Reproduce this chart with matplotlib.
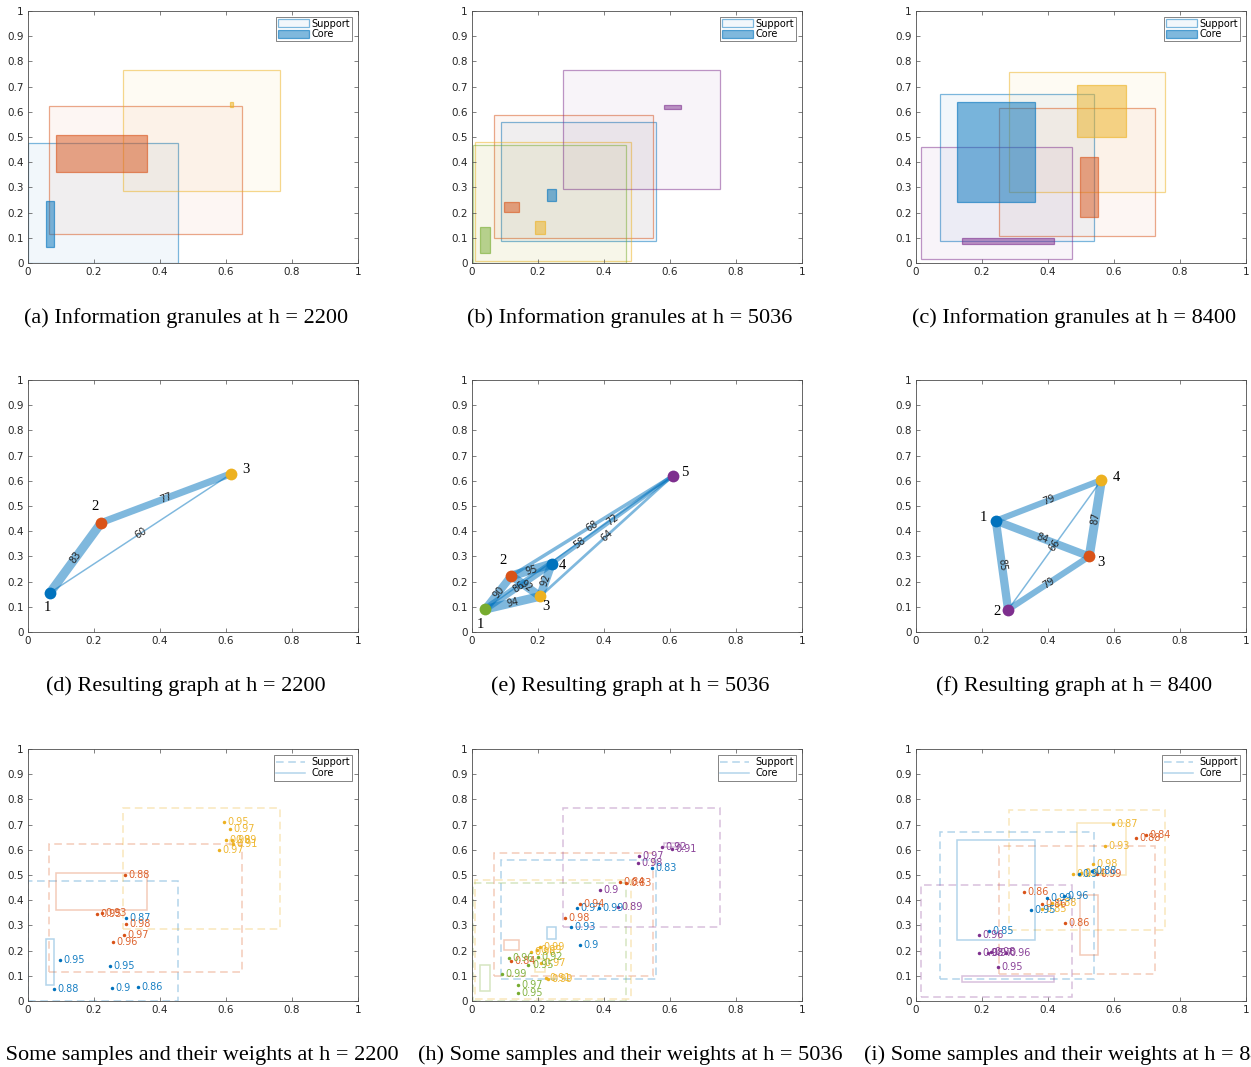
import matplotlib
matplotlib.use('Agg')
import matplotlib.pyplot as plt
from matplotlib.patches import Rectangle, Patch
from matplotlib.lines import Line2D
from matplotlib.colors import to_rgba
import numpy as np

# ---------------- colours (MATLAB default order) ----------------
COLORS = {'blue': '#0072BD', 'orange': '#D95319', 'yellow': '#EDB120',
          'purple': '#7E2F8E', 'green': '#77AC30'}

# ---------------- granules: [xmin, xmax, ymin, ymax] ----------------
clr_2200 = ['blue', 'orange', 'yellow']
support_2200 = [[0.000, 0.455, 0.000, 0.478],
                [0.063, 0.648, 0.116, 0.622],
                [0.287, 0.763, 0.286, 0.766]]
core_2200 = [[0.054, 0.079, 0.065, 0.246],
             [0.085, 0.360, 0.362, 0.507],
             [0.612, 0.621, 0.619, 0.638]]
node_2200 = [1, 2, 3]

clr_5036 = ['blue', 'orange', 'yellow', 'purple', 'green']
support_5036 = [[0.088, 0.557, 0.089, 0.558],
                [0.066, 0.548, 0.100, 0.586],
                [0.008, 0.481, 0.007, 0.482],
                [0.276, 0.752, 0.292, 0.766],
                [0.003, 0.467, 0.000, 0.469]]
core_5036 = [[0.226, 0.256, 0.246, 0.294],
             [0.096, 0.143, 0.204, 0.242],
             [0.192, 0.221, 0.115, 0.168],
             [0.583, 0.634, 0.613, 0.627],
             [0.025, 0.055, 0.040, 0.141]]
node_5036 = [4, 2, 3, 5, 1]

clr_8400 = ['blue', 'orange', 'yellow', 'purple']
support_8400 = [[0.072, 0.539, 0.087, 0.671],
                [0.251, 0.725, 0.108, 0.614],
                [0.281, 0.754, 0.280, 0.758],
                [0.014, 0.474, 0.016, 0.459]]
core_8400 = [[0.123, 0.361, 0.244, 0.639],
             [0.497, 0.553, 0.181, 0.419],
             [0.487, 0.637, 0.499, 0.707],
             [0.139, 0.419, 0.076, 0.101]]
node_8400 = [1, 3, 4, 2]

# ---------------- graph edges (node labels) and weights ----------------
edges_2200 = [(1, 2), (1, 3), (2, 3)]
weights_2200 = [83, 60, 77]

edges_5036 = [(1, 2), (1, 3), (1, 4), (1, 5), (2, 3), (2, 4), (2, 5), (3, 4), (3, 5), (4, 5)]
weights_5036 = [90, 94, 86, 58, 92, 95, 68, 92, 64, 72]

edges_8400 = [(1, 2), (1, 3), (1, 4), (2, 3), (2, 4), (3, 4)]
weights_8400 = [85, 84, 79, 79, 66, 87]

# ---------------- samples with weights ----------------
samp_2200_c = ['blue'] * 6 + ['orange'] * 6 + ['yellow'] * 6
samp_2200_x = [0.098, 0.248, 0.078, 0.255, 0.334, 0.298,
               0.294, 0.208, 0.225, 0.298, 0.291, 0.258,
               0.594, 0.611, 0.600, 0.617, 0.621, 0.580]
samp_2200_y = [0.164, 0.140, 0.048, 0.051, 0.056, 0.331,
               0.499, 0.344, 0.348, 0.307, 0.261, 0.234,
               0.709, 0.684, 0.640, 0.637, 0.622, 0.601]
samp_2200_w = ['0.95', '0.95', '0.88', '0.9', '0.86', '0.87',
               '0.88', '0.95', '0.93', '0.98', '0.97', '0.96',
               '0.95', '0.97', '0.98', '0.99', '0.91', '0.97']

samp_5036_c = (['purple'] * 6 + ['blue'] * 5 + ['orange'] * 5 +
               ['yellow'] * 6 + ['green'] * 6)
samp_5036_x = [0.575, 0.606, 0.507, 0.503, 0.389, 0.442,
               0.545, 0.317, 0.386, 0.301, 0.327,
               0.449, 0.468, 0.328, 0.281, 0.117,
               0.224, 0.231, 0.178, 0.196, 0.206, 0.210,
               0.112, 0.199, 0.171, 0.090, 0.140, 0.138]
samp_5036_y = [0.610, 0.602, 0.577, 0.548, 0.441, 0.374,
               0.529, 0.371, 0.368, 0.293, 0.222,
               0.472, 0.468, 0.383, 0.331, 0.157,
               0.093, 0.086, 0.193, 0.204, 0.214, 0.149,
               0.170, 0.173, 0.142, 0.106, 0.065, 0.033]
samp_5036_w = ['0.92', '0.91', '0.97', '0.98', '0.9', '0.89',
               '0.83', '0.97', '0.99', '0.93', '0.9',
               '0.84', '0.83', '0.94', '0.98', '0.84',
               '0.91', '0.99', '0.96', '0.99', '0.99', '0.97',
               '0.96', '0.92', '0.95', '0.99', '0.97', '0.95']

samp_8400_c = (['yellow'] * 7 + ['orange'] * 6 + ['blue'] * 6 + ['purple'] * 6)
samp_8400_x = [0.597, 0.573, 0.537, 0.475, 0.383, 0.412, 0.500,
               0.667, 0.696, 0.548, 0.328, 0.383, 0.452,
               0.398, 0.447, 0.347, 0.222, 0.495, 0.532,
               0.192, 0.192, 0.218, 0.228, 0.272, 0.249]
samp_8400_y = [0.704, 0.617, 0.545, 0.505, 0.364, 0.390, 0.508,
               0.648, 0.657, 0.505, 0.431, 0.384, 0.308,
               0.409, 0.417, 0.361, 0.279, 0.505, 0.514,
               0.263, 0.190, 0.192, 0.194, 0.189, 0.135]
samp_8400_w = ['0.87', '0.93', '0.98', '0.9', '0.85', '0.88', '0.94',
               '0.88', '0.84', '0.99', '0.86', '0.86', '0.86',
               '0.99', '0.96', '0.95', '0.85', '0.9', '0.88',
               '0.96', '0.98', '0.97', '0.98', '0.96', '0.95']

captions = ['(a) Information granules at h = 2200',
            '(b) Information granules at h = 5036',
            '(c) Information granules at h = 8400',
            '(d) Resulting graph at h = 2200',
            '(e) Resulting graph at h = 5036',
            '(f) Resulting graph at h = 8400',
            '(g) Some samples and their weights at h = 2200',
            '(h) Some samples and their weights at h = 5036',
            '(i) Some samples and their weights at h = 8400']

# ---------------- layout (pixels) ----------------
W, H = 1251, 1067
COL_LEFT = [28, 472, 916]
ROW_TOP = [11, 380, 749]
AX_W, AX_H = 330, 252
CAP_X = [186, 630, 1074]
CAP_Y = [318, 686, 1055]
# node-label offsets in pixels (dx, dy up) per panel, keyed by node label
LBL_OFF = [{1: (-3, -15), 2: (-6, 16), 3: (14, 4)},
           {1: (-5, -15), 2: (-8, 15), 3: (6, -10), 4: (11, -2), 5: (12, 3)},
           {1: (-12, 3), 2: (-11, -2), 3: (12, -6), 4: (15, 3)}]

INK = '#262626'
FRAME = '#4d4d4d'
fig = plt.figure(figsize=(W / 100, H / 100), dpi=100)


def make_ax(col, row):
    ax = fig.add_axes([COL_LEFT[col] / W, 1 - (ROW_TOP[row] + AX_H) / H, AX_W / W, AX_H / H])
    ax.set_xlim(0, 1)
    ax.set_ylim(0, 1)
    xt = np.round(np.arange(0, 1.01, 0.2), 1)
    yt = np.round(np.arange(0, 1.01, 0.1), 1)
    ax.set_xticks(xt)
    ax.set_yticks(yt)
    ax.set_xticklabels([f'{v:g}' for v in xt])
    ax.set_yticklabels([f'{v:g}' for v in yt])
    ax.tick_params(direction='in', length=3, width=0.5, color=FRAME, labelcolor=INK,
                   labelsize=7.5, top=True, right=True, pad=3)
    for s in ax.spines.values():
        s.set_color(FRAME)
        s.set_linewidth(0.6)
    return ax


def draw_granules(ax, clr, sup, core):
    for c, b in zip(clr, sup):
        ax.add_patch(Rectangle((b[0], b[2]), b[1] - b[0], b[3] - b[2],
                               facecolor=to_rgba(COLORS[c], 0.05),
                               edgecolor=to_rgba(COLORS[c], 0.5), lw=0.9))
    for c, b in zip(clr, core):
        ax.add_patch(Rectangle((b[0], b[2]), b[1] - b[0], b[3] - b[2],
                               facecolor=to_rgba(COLORS[c], 0.5),
                               edgecolor=to_rgba(COLORS[c], 0.6), lw=0.9))
    hs = [Patch(facecolor=to_rgba(COLORS['blue'], 0.05), edgecolor=to_rgba(COLORS['blue'], 0.5), lw=0.9),
          Patch(facecolor=to_rgba(COLORS['blue'], 0.5), edgecolor=to_rgba(COLORS['blue'], 0.6), lw=0.9)]
    leg = ax.legend(hs, ['Support', 'Core'], loc='upper right', fontsize=7, fancybox=False,
                    frameon=True, borderpad=0.2, handlelength=3.2, handleheight=0.9,
                    handletextpad=0.3, labelspacing=0.05, borderaxespad=0.6)
    leg.get_frame().set_edgecolor(FRAME)
    leg.get_frame().set_linewidth(0.6)


def draw_graph(ax, clr, core, nodes, edges, weights, offs):
    pos = {}
    for c, b, n in zip(clr, core, nodes):
        pos[n] = ((b[0] + b[1]) / 2, (b[2] + b[3]) / 2, c)
    wmin, wmax = min(weights), max(weights)
    ecol = to_rgba(COLORS['blue'], 0.5)
    for (a, b), w in zip(edges, weights):
        nrm = (w - wmin) / (wmax - wmin)
        lw = (1.5 + 7.5 * nrm) * 0.72
        ax.plot([pos[a][0], pos[b][0]], [pos[a][1], pos[b][1]], color=ecol, lw=lw,
                solid_capstyle='butt', zorder=2)
    for (a, b), w in zip(edges, weights):
        mx, my = (pos[a][0] + pos[b][0]) / 2, (pos[a][1] + pos[b][1]) / 2
        p1 = ax.transData.transform((pos[a][0], pos[a][1]))
        p2 = ax.transData.transform((pos[b][0], pos[b][1]))
        ang = np.degrees(np.arctan2(p2[1] - p1[1], p2[0] - p1[0]))
        if ang > 90:
            ang -= 180
        if ang <= -90:
            ang += 180
        ax.text(mx, my, str(w), rotation=ang, rotation_mode='anchor', ha='center',
                va='center', fontsize=7, color=INK, zorder=4)
    for n, (x, y, c) in pos.items():
        ax.plot(x, y, 'o', ms=8.5, color=COLORS[c], mec='none', zorder=5)
        dx, dy = offs[n]
        ax.annotate(str(n), (x, y), xytext=(dx * 0.72, dy * 0.72), textcoords='offset points',
                    ha='center', va='center', fontsize=10.5, family='Liberation Serif',
                    color='black', zorder=6)


def draw_samples(ax, clr, sup, core, sc, sx, sy, sw):
    for c, b in zip(clr, sup):
        ax.add_patch(Rectangle((b[0], b[2]), b[1] - b[0], b[3] - b[2], fill=False,
                               edgecolor=to_rgba(COLORS[c], 0.3), lw=1.1,
                               linestyle=(0, (5, 3))))
    for c, b in zip(clr, core):
        ax.add_patch(Rectangle((b[0], b[2]), b[1] - b[0], b[3] - b[2], fill=False,
                               edgecolor=to_rgba(COLORS[c], 0.3), lw=1.1))
    for c, x, y, w in zip(sc, sx, sy, sw):
        ax.plot(x, y, 'o', ms=2.5, color=COLORS[c], mec='none', zorder=4)
        ax.annotate(w, (x, y), xytext=(2.5, 0), textcoords='offset points', ha='left',
                    va='center', fontsize=7, color=to_rgba(COLORS[c], 0.9), zorder=4)
    hs = [Line2D([0], [0], color=to_rgba(COLORS['blue'], 0.3), lw=1.1, linestyle=(0, (5, 3))),
          Line2D([0], [0], color=to_rgba(COLORS['blue'], 0.3), lw=1.1)]
    leg = ax.legend(hs, ['Support', 'Core'], loc='upper right', fontsize=7, fancybox=False,
                    frameon=True, borderpad=0.25, handlelength=3.0, handletextpad=0.6,
                    labelspacing=0.1, borderaxespad=0.6)
    leg.get_frame().set_edgecolor(FRAME)
    leg.get_frame().set_linewidth(0.6)


sets = [(clr_2200, support_2200, core_2200, node_2200, edges_2200, weights_2200,
         samp_2200_c, samp_2200_x, samp_2200_y, samp_2200_w),
        (clr_5036, support_5036, core_5036, node_5036, edges_5036, weights_5036,
         samp_5036_c, samp_5036_x, samp_5036_y, samp_5036_w),
        (clr_8400, support_8400, core_8400, node_8400, edges_8400, weights_8400,
         samp_8400_c, samp_8400_x, samp_8400_y, samp_8400_w)]

for col, (clr, sup, core, nodes, edges, wts, sc, sx, sy, sw) in enumerate(sets):
    ax = make_ax(col, 0)
    draw_granules(ax, clr, sup, core)
    ax = make_ax(col, 1)
    draw_graph(ax, clr, core, nodes, edges, wts, LBL_OFF[col])
    ax = make_ax(col, 2)
    draw_samples(ax, clr, sup, core, sc, sx, sy, sw)

for i, cap in enumerate(captions):
    r, c = divmod(i, 3)
    fig.text(CAP_X[c] / W, 1 - CAP_Y[r] / H, cap, ha='center', va='center',
             family='Liberation Serif', fontsize=16, color='black')

fig.savefig('out.png', dpi=100)
